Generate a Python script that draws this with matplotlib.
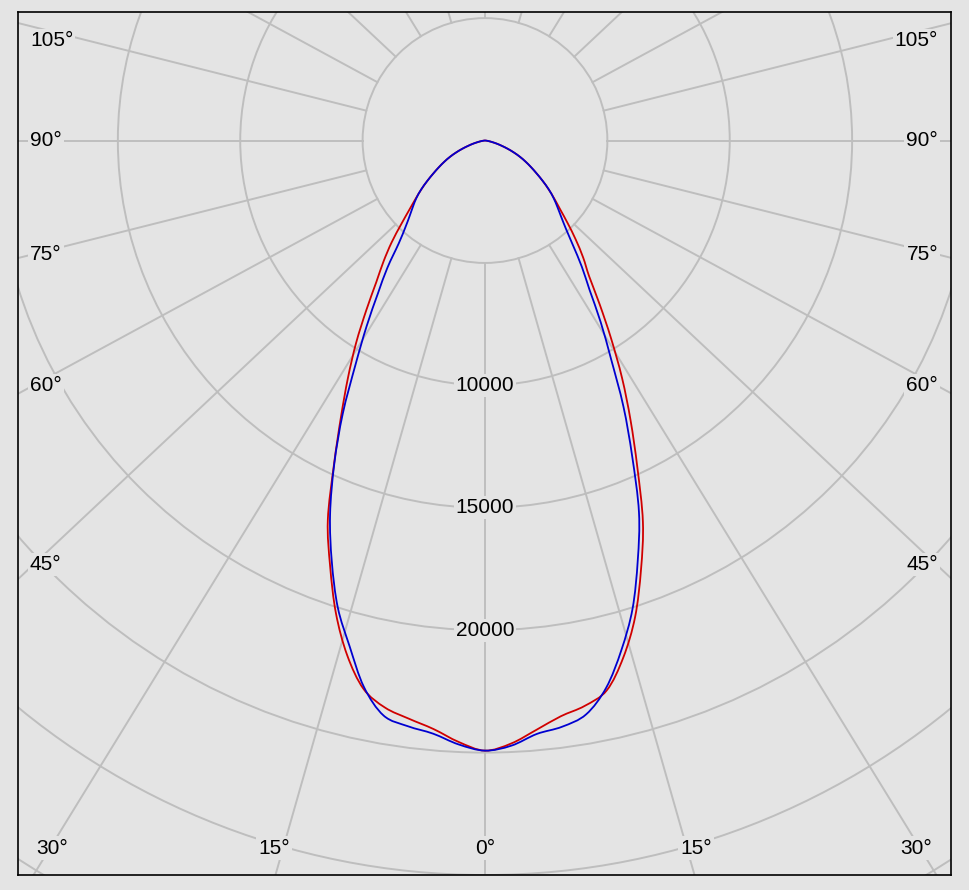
import numpy as np
import matplotlib.pyplot as plt
from matplotlib.patches import Circle, PathPatch
from matplotlib.path import Path

# gamma angles (deg from nadir) and intensities (cd)
gamma = [0, 2.5, 5, 7.5, 10, 12.5, 15, 17.5, 20, 22.5, 25, 27.5, 30, 32.5, 35, 37.5,
         40, 42.5, 45, 47.5, 50, 52.5, 55, 57.5, 60, 62.5, 65, 67.5, 70, 72.5, 75,
         77.5, 80, 82.5, 85, 87.5, 90]

tail = [2880, 2500, 2170, 1870, 1580, 1280, 990, 720, 510, 320, 190, 100, 45, 12, 0]

red_left = [24920, 24590, 24130, 23820, 23520, 22940, 21760, 20250, 18500, 16780,
            14600, 12750, 11200, 9800, 8450, 7300, 6450, 5650, 4850, 4200, 3700, 3280] + tail
red_right = [24920, 24650, 24160, 23720, 23450, 23000, 21850, 20400, 18640, 16860,
             14730, 12880, 11200, 9590, 8170, 6990, 6240, 5490, 4780, 4170, 3700, 3280] + tail
blue_left = [24920, 24690, 24320, 24130, 23850, 22860, 21380, 20000, 18300, 16540,
             14570, 12590, 10590, 9010, 7630, 6550, 5480, 4820, 4350, 3990, 3660, 3290] + tail
blue_right = [24920, 24740, 24330, 24150, 23800, 22890, 21540, 20050, 18250, 16440,
              14230, 12250, 10300, 8800, 7450, 6500, 5600, 4900, 4400, 4010, 3660, 3290] + tail

rings = [5000, 10000, 15000, 20000, 25000, 30000, 35000]
ring_labels = [10000, 15000, 20000]
spokes = list(range(0, 360, 15))
side_labels = [45, 60, 75, 90, 105]
bottom_labels = [0, 15, 30]

BG = '#e4e4e4'
GRID = '#bebebe'
STRETCH = 1.065          # spokes in the original are drawn slightly widened
XMIN, XMAX = -19080, 19040
YMIN, YMAX = -30000, 5250
PX = 40.85               # cd per pixel
FONT = dict(family='Liberation Sans', fontsize=15, color='black')
BOX = dict(boxstyle='square,pad=0.1', fc=BG, ec='none')


def curve_xy(left, right):
    g = np.radians(gamma)
    left = np.array(left, dtype=float)
    right = np.array(right, dtype=float)
    # left half from 90 down to 0, right half from 0 up to 90 (shared nadir point)
    x = np.concatenate([-(left * np.sin(g))[::-1], (right * np.sin(g))[1:]])
    y = np.concatenate([-(left * np.cos(g))[::-1], (-right * np.cos(g))[1:]])
    return x, y


def smooth_path(x, y):
    # Catmull-Rom through the read points, drawn as cubic Bezier segments
    p = np.column_stack([x, y])
    ext = np.vstack([p[0], p, p[-1]])
    verts = [p[0]]
    codes = [Path.MOVETO]
    for i in range(1, len(ext) - 2):
        c1 = ext[i] + (ext[i + 1] - ext[i - 1]) / 6
        c2 = ext[i + 1] - (ext[i + 2] - ext[i]) / 6
        verts += [c1, c2, ext[i + 1]]
        codes += [Path.CURVE4] * 3
    return Path(verts, codes)


def spoke_dir(a):
    a = np.radians(a)
    return STRETCH * np.sin(a), -np.cos(a)


fig = plt.figure(figsize=(9.69, 8.90), dpi=100, facecolor=BG)
ax = fig.add_axes([18 / 969, 15 / 890, 933 / 969, 863 / 890])
ax.set_facecolor(BG)
ax.set_xlim(XMIN, XMAX)
ax.set_ylim(YMIN, YMAX)
ax.set_xticks([])
ax.set_yticks([])
for s in ax.spines.values():
    s.set_color('black')
    s.set_linewidth(1.2)

# grid circles
for r in rings:
    ax.add_patch(Circle((0, 0), r, fill=False, ec=GRID, lw=1.4, zorder=1))

# spokes, starting on the innermost circle
for a in spokes:
    dx, dy = spoke_dir(a)
    t0 = rings[0] / np.hypot(dx, dy)
    ax.plot([t0 * dx, 60000 * dx], [t0 * dy, 60000 * dy], color=GRID, lw=1.4, zorder=1)

# angle labels on the sides
for a in side_labels:
    for side in (-1, 1):
        dx, dy = spoke_dir(side * a)
        t = 18430 / abs(dx)
        y = min(t * dy, YMAX - 1170)
        if side < 0:
            ax.text(XMIN + 490, y, f'{a}°', ha='left', va='center', bbox=BOX, zorder=3, **FONT)
        else:
            ax.text(XMAX - 530, y, f'{a}°', ha='right', va='center', bbox=BOX, zorder=3, **FONT)

# angle labels along the bottom, set just outside their spoke
for a in bottom_labels:
    for side in ((0,) if a == 0 else (-1, 1)):
        dx, dy = spoke_dir(side * a)
        y = YMIN + 1100
        x = y / dy * dx + side * 9 * PX
        x = min(max(x, XMIN + 34 * PX), XMAX - 35 * PX)
        ax.text(x, y, f'{a}°', ha='center', va='center', bbox=BOX, zorder=3, **FONT)

# intensity labels
for r in ring_labels:
    ax.text(0, -r, str(r), ha='center', va='center', bbox=BOX, zorder=3, **FONT)

# light distribution curves
x, y = curve_xy(red_left, red_right)
ax.add_patch(PathPatch(smooth_path(x, y), fill=False, ec='#d00000', lw=1.3, zorder=4))
x, y = curve_xy(blue_left, blue_right)
ax.add_patch(PathPatch(smooth_path(x, y), fill=False, ec='#0000d0', lw=1.3, zorder=5))

fig.savefig('out.png', dpi=100, facecolor=BG)
